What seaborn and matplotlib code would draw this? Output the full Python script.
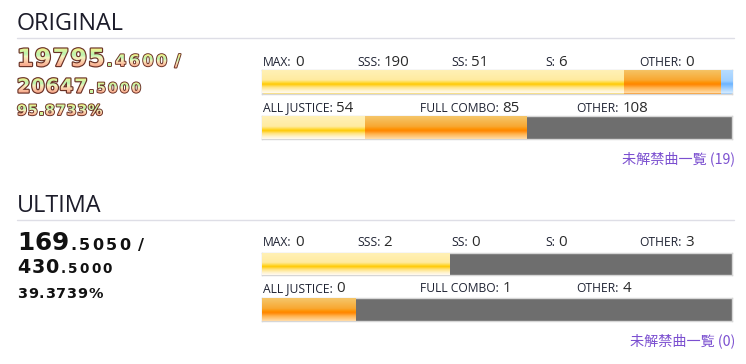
import numpy as np
import pandas as pd
import matplotlib
matplotlib.use("Agg")
import matplotlib.pyplot as plt
import seaborn as sns
from matplotlib.colors import LinearSegmentedColormap
from matplotlib.font_manager import FontProperties, findfont
from matplotlib.ft2font import FT2Font
from matplotlib import patheffects as pe
from matplotlib.transforms import TransformedPath, IdentityTransform

# ---------------- data ----------------
section_titles = ["ORIGINAL", "ULTIMA"]
rank_labels = ["MAX", "SSS", "SS", "S", "OTHER"]
combo_labels = ["ALL JUSTICE", "FULL COMBO", "OTHER"]
orig_rank_counts = [0, 190, 51, 6, 0]
orig_combo_counts = [54, 85, 108]
ult_rank_counts = [0, 2, 0, 0, 3]
ult_combo_counts = [0, 1, 4]
orig_score_parts = ["19795", ".4600"]
orig_max_parts = ["20647", ".5000"]
orig_percent = "95.8733%"
ult_score_parts = ["169", ".5050"]
ult_max_parts = ["430", ".5000"]
ult_percent = "39.3739%"
locked_label = "未解禁曲一覧"
orig_locked = 19
ult_locked = 0

rank_styles = ["rainbow", "yellow", "orange", "blue", "gray"]
combo_styles = ["yellow", "orange", "gray"]

# ---------------- styling ----------------
W, H = 746, 364
sns.set_theme(style="white")
plt.rcParams["font.family"] = ["Open Sans", "DejaVu Sans"]

fig = plt.figure(figsize=(W / 100, H / 100), dpi=100)
fig.patch.set_facecolor("white")

GRADS = {
    "yellow": [(0, "#fff1b8"), (0.45, "#ffeba0"), (0.57, "#ffd93a"), (0.63, "#ffc800"),
               (0.75, "#ffe27a"), (0.9, "#fff3cc"), (1.0, "#fffaf0")],
    "orange": [(0, "#f5c66a"), (0.45, "#f8a832"), (0.58, "#ff9000"), (0.64, "#ff8500"),
               (0.78, "#ffb04a"), (1.0, "#ffdca8")],
    "blue": [(0, "#b9ddff"), (0.5, "#9fcfff"), (0.62, "#6db4ff"), (1.0, "#d4ebff")],
    "rainbow": [(0, "#ffb0d0"), (0.5, "#b0e0ff"), (1.0, "#c0ffb0")],
}
BASE = {"yellow": "#ffe27a", "orange": "#ffa030", "blue": "#9fcfff",
        "rainbow": "#d0d0ff", "gray": "#6e6e6e"}

score_cmap = LinearSegmentedColormap.from_list(
    "score", [(0, "#f8a88c"), (0.3, "#fcd3ad"), (0.5, "#eef6bc"), (0.65, "#baf3b0"),
              (0.85, "#d8f39e"), (1.0, "#f8f388")])

_fontfiles = {}


def adv(s, family, weight, size):
    key = (family, weight)
    if key not in _fontfiles:
        _fontfiles[key] = findfont(FontProperties(family=family, weight=weight))
    ft = FT2Font(_fontfiles[key])
    ft.set_size(size, 100)
    tot = 0.0
    for ch in s:
        g = ft.load_char(ord(ch))
        tot += g.linearHoriAdvance / 65536
    return tot


class GradientFill(pe.AbstractPathEffect):
    def __init__(self, top_px, bottom_px, cmap):
        super().__init__((0, 0))
        self.top = top_px
        self.bottom = bottom_px
        self.cmap = cmap

    def draw_path(self, renderer, gc, tpath, affine, rgbFace=None):
        path = affine.transform_path(tpath)
        ext = path.get_extents()
        x0 = int(np.floor(ext.x0)) - 1
        x1 = int(np.ceil(ext.x1)) + 1
        y0 = int(np.floor(ext.y0)) - 1
        y1 = int(np.ceil(ext.y1)) + 1
        w, h = x1 - x0, y1 - y0
        if w <= 0 or h <= 0:
            return
        Hc = renderer.height
        top_d, bot_d = Hc - self.top, Hc - self.bottom
        ys = (y1 - 0.5) - np.arange(h)
        t = np.clip((top_d - ys) / (top_d - bot_d), 0, 1)
        rgba = (self.cmap(t)[:, None, :] * 255).astype(np.uint8)
        img = np.ascontiguousarray(np.repeat(rgba, w, axis=1))
        gc2 = renderer.new_gc()
        gc2.copy_properties(gc)
        gc2.set_clip_path(TransformedPath(path, IdentityTransform()))
        renderer.draw_image(gc2, x0, y0, img)
        gc2.restore()


def fx(x):
    return x / W


def fy(y):
    return 1 - y / H


def put_run(x, base, s, size, spacing, color, fancy, cap_ratio=0.729):
    fam, wt = "DejaVu Sans", "bold"
    top = base - cap_ratio * size * 100 / 72
    stroke_w = 1.7 if size >= 13 else 1.35
    for ch in s:
        kw = {}
        if fancy:
            kw["path_effects"] = [pe.Stroke(linewidth=stroke_w, foreground="#6a3226"),
                                  GradientFill(top, base + 0.5, score_cmap)]
        fig.text(fx(x), fy(base), ch, fontsize=size, family=fam, weight=wt,
                 color=color, ha="left", va="baseline", **kw)
        x += adv(ch, fam, wt, size) + spacing
    return x


def draw_bar(top, bottom, counts, styles):
    ax = fig.add_axes([fx(262), fy(bottom), 470 / W, (bottom - top) / H])
    cum = np.cumsum(counts)
    total = cum[-1]
    df = pd.DataFrame({"row": ["r"] * len(counts), "cum": cum,
                       "style": styles, "count": counts})
    for i in reversed(range(len(counts))):
        sns.barplot(data=df.iloc[[i]], x="cum", y="row", orient="h",
                    color=BASE[styles[i]], saturation=1, width=1.0,
                    linewidth=0, ax=ax)
    for i in range(len(counts)):
        st = styles[i]
        if counts[i] > 0 and st in GRADS:
            cmap = LinearSegmentedColormap.from_list("b" + st, GRADS[st])
            arr = cmap(np.linspace(0, 1, 64))[:, None, :]
            ax.imshow(arr, extent=[cum[i] - counts[i], cum[i], 0.5, -0.5],
                      aspect="auto", interpolation="bilinear", zorder=3)
    ax.set_xlim(0, total)
    ax.set_ylim(0.5, -0.5)
    ax.set_xticks([])
    ax.set_yticks([])
    ax.set_xlabel("")
    ax.set_ylabel("")
    for sp in ax.spines.values():
        sp.set_color("#d6d6d6")
        sp.set_linewidth(1.0)
        sp.set_visible(True)


def draw_labels(base, labels, counts):
    n = len(labels)
    for i, (lab, c) in enumerate(zip(labels, counts)):
        x = 263 + i * 470 / n
        s = lab + ":"
        fig.text(fx(x), fy(base), s, fontsize=8.7, family="Open Sans",
                 color="#1f2333", ha="left", va="baseline")
        x2 = x + adv(s, "Open Sans", "normal", 8.7) + 3.5
        fig.text(fx(x2), fy(base), str(c), fontsize=10.8, family="Open Sans",
                 color="#2a2a2a", ha="left", va="baseline")


def draw_section(title, title_base, line_y, score_parts, max_parts, percent,
                 score_bases, fancy, label_bases, bars, rank_counts,
                 combo_counts, locked, locked_base, big, big_sp):
    fig.text(fx(17), fy(title_base), title, fontsize=16.8, family="Open Sans",
             color="#1c1c2a", ha="left", va="baseline")
    fig.add_artist(plt.Line2D([fx(17), fx(734)], [fy(line_y), fy(line_y)],
                              color="#dedee6", linewidth=1.0))
    color = "#f0e0a0" if fancy else "#111111"
    b1, b2, b3 = score_bases
    x = put_run(17, b1, score_parts[0], big, big_sp, color, fancy)
    x = put_run(x + 0.5, b1, score_parts[1], 11.5, 2.5, color, fancy)
    put_run(x + 5, b1, "/", 11.8, 0, color, fancy)
    x = put_run(17, b2, max_parts[0], 13.8, 1.0, color, fancy)
    put_run(x + 0.5, b2, max_parts[1], 9.8, 2.2, color, fancy)
    put_run(17, b3, percent, 10.4, 0.8, color, fancy)

    draw_labels(label_bases[0], rank_labels, rank_counts)
    draw_bar(bars[0][0], bars[0][1], rank_counts, rank_styles)
    draw_labels(label_bases[1], combo_labels, combo_counts)
    draw_bar(bars[1][0], bars[1][1], combo_counts, combo_styles)

    fig.text(fx(735), fy(locked_base), f"{locked_label} ({locked})", fontsize=10.2,
             family=["Noto Sans CJK JP", "DejaVu Sans"], color="#7b4fd0",
             ha="right", va="baseline")


draw_section(section_titles[0], 30, 38, orig_score_parts, orig_max_parts,
             orig_percent, (66, 92.5, 115), True, (65.5, 111.5),
             [(70, 93.5), (116, 139)], orig_rank_counts, orig_combo_counts,
             orig_locked, 163, 17.2, 1.2)
draw_section(section_titles[1], 212, 220, ult_score_parts, ult_max_parts,
             ult_percent, (250, 273, 298), False, (246, 292.5),
             [(252.7, 275), (298.3, 321)], ult_rank_counts, ult_combo_counts,
             ult_locked, 345, 17.8, 0.3)

fig.savefig("out.png", dpi=100, facecolor="white")
